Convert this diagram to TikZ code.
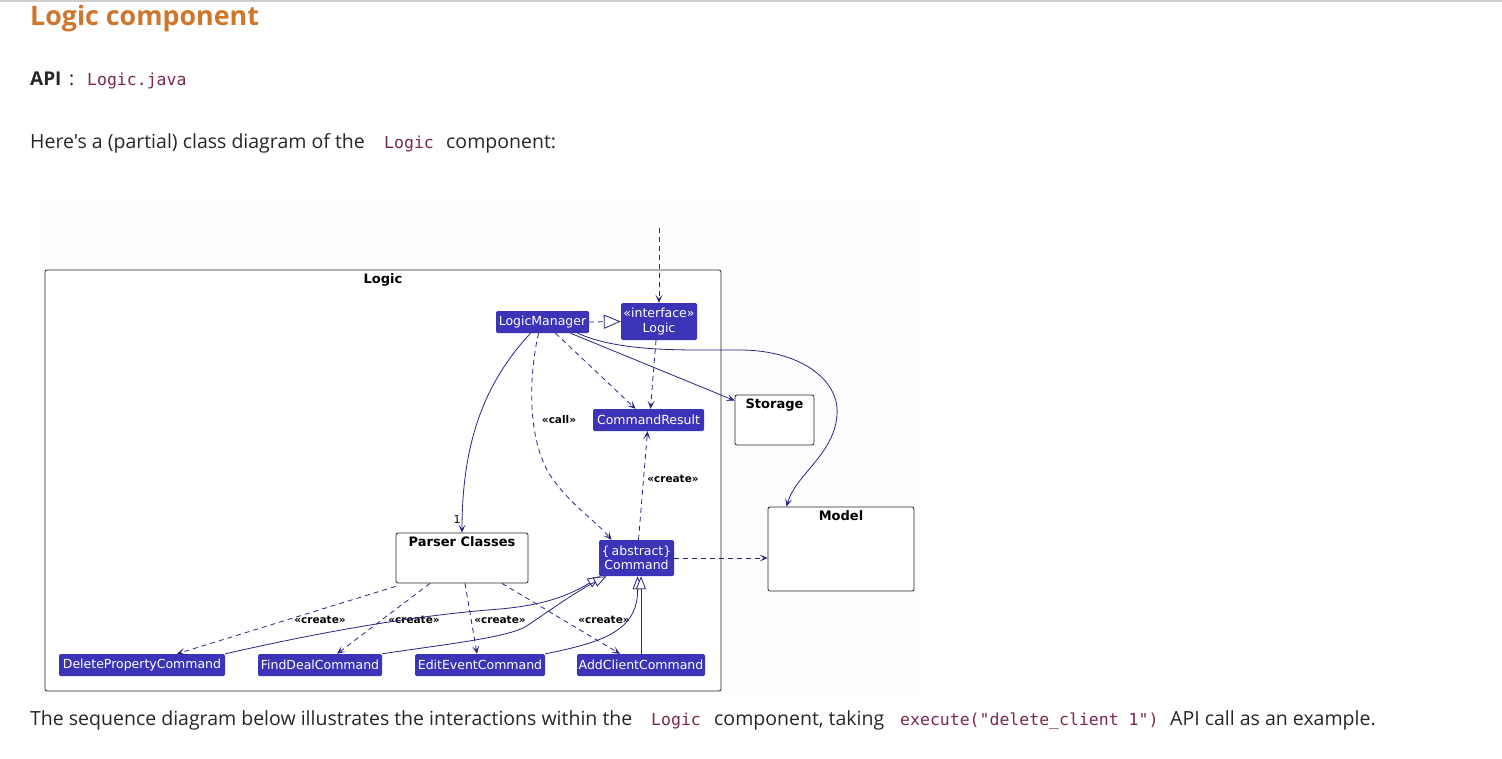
\documentclass[tikz,border=0pt]{standalone}
\usepackage{fontspec}
\setmainfont{Open Sans}[Ligatures=TeXOff]
\newfontfamily\diafont{DejaVu Sans}
\newfontfamily\codefont{DejaVu Sans Mono}[Ligatures=TeXOff]
\usetikzlibrary{positioning,arrows.meta}

\definecolor{umlfill}{RGB}{60,52,184}
\definecolor{umlline}{RGB}{38,38,130}
\definecolor{headorange}{RGB}{206,118,44}
\definecolor{codered}{RGB}{122,38,82}
\definecolor{pagegray}{RGB}{205,205,205}
\definecolor{diabg}{RGB}{253,253,253}

\tikzset{
  cls/.style={fill=umlfill, text=white, rounded corners=1.5pt, inner sep=0pt,
    minimum height=22pt, align=center, font=\diafont\fontsize{12.5}{14.5}\selectfont},
  pkg/.style={draw=black!85, fill=white, rounded corners=2pt, line width=0.8pt},
  pkgtitle/.style={inner sep=0pt, font=\diafont\bfseries\fontsize{13}{15}\selectfont},
  stereo/.style={inner sep=0pt, font=\diafont\bfseries\fontsize{10.5}{12}\selectfont},
  body/.style={anchor=base west, inner sep=0pt, text=black!85, font=\fontsize{19.5}{23}\selectfont},
  code/.style={anchor=base west, inner sep=0pt, text=codered, font=\codefont\fontsize{16.5}{20}\selectfont},
  uses/.style={umlline, line width=0.8pt, -{Stealth[length=8pt,width=7pt,inset=4pt]}},
  dep/.style={uses, dash pattern=on 5pt off 4pt},
  gen/.style={umlline, line width=0.8pt, -{Triangle[open,length=13pt,width=10pt,fill=white]}},
  real/.style={gen, dash pattern=on 5pt off 4pt, -{Triangle[open,length=17pt,width=14pt,fill=white]}}
}

\begin{document}
\begin{tikzpicture}[x=1pt, y=-1pt]

    \useasboundingbox (0,0) rectangle (1502,758);

    % page
    \draw[pagegray, line width=1.5pt] (0,0.75) -- (1502,0.75);
    \fill[diabg] (38,198) rectangle (920,695);

    \node[anchor=base west, inner sep=0pt, text=headorange,
          font=\bfseries\fontsize{26.8}{30}\selectfont] (title) at (30,25) {Logic component};
    \node[body, font=\bfseries\fontsize{19}{22}\selectfont] (api) at (30,85) {API};
    \node[body] (apicolon) at (69,85) {:};
    \node[code] (apifile) at (87,85) {Logic.java};

    \node[body] (intro) at (30,148) {Here's a (partial) class diagram of the};
    \node[code] (introcode) at (384,148) {Logic};
    \node[body] (introend) at (446,148) {component:};

    \node[body] (outro) at (30,725) {The sequence diagram below illustrates the interactions within the};
    \node[code] (outrocode) at (651,725) {Logic};
    \node[body] (outromid) at (714,725) {component, taking};
    \node[code] (outrocall) at (900,725) {execute("delete\_client 1")};
    \node[body] (outroend) at (1170,725) {API call as an example.};

    % packages
    \node[pkg, minimum width=676, minimum height=421] (logicpkg) at (383,480.5) {};
    \node[pkgtitle, below=4pt of logicpkg.north] (logicpkgtitle) {Logic};

    \node[pkg, minimum width=79, minimum height=50] (storage) at (774.5,420) {};
    \node[pkgtitle, below=4pt of storage.north] (storagetitle) {Storage};

    \node[pkg, minimum width=146, minimum height=84] (model) at (841,549) {};
    \node[pkgtitle, below=4pt of model.north] (modeltitle) {Model};

    \node[pkg, minimum width=132, minimum height=50] (parser) at (462,558) {};
    \node[pkgtitle, below=4pt of parser.north] (parsertitle) {Parser Classes};

    % classes
    \node[cls, minimum width=93] (lm) at (542.5,322) {LogicManager};
    \node[cls, minimum width=76, minimum height=37] (logic) at (659,321.5) {«interface»\\Logic};
    \node[cls, minimum width=111] (cr) at (648.5,420) {CommandResult};
    \node[cls, minimum width=75, minimum height=36] (command) at (636.5,558) {\{\,abstract\}\\Command};

    \node[cls, minimum width=166] (delprop) at (142,665) {DeletePropertyCommand};
    \node[cls, minimum width=124] (finddeal) at (320,665) {FindDealCommand};
    \node[cls, minimum width=130] (editevent) at (480,665) {EditEventCommand};
    \node[cls, minimum width=128] (addclient) at (641,665) {AddClientCommand};

    \coordinate (outside) at (659,228);

    % edges
    \draw[dep] (outside) -- (logic.north);
    \draw[real] (lm.east) -- (logic.west);

    \draw[uses] ([xshift=-12pt]lm.south) .. controls (492,375) and (462,430) .. (parser.north);
    \node[font=\diafont\fontsize{11}{13}\selectfont, inner sep=0pt] (one) at (457,519) {1};

    \draw[dep] ([xshift=-4pt]lm.south) .. controls (528,380) and (528,440) .. (550,475)
                                        .. controls (570,505) and (595,520) .. ([xshift=-25pt]command.north);
    \node[stereo] (lblcall) at (559,420) {«call»};

    \draw[dep] ([xshift=13pt]lm.south) -- ([xshift=-13pt]cr.north);
    \draw[dep] ([xshift=-3pt]logic.south) -- ([xshift=2pt]cr.north);

    \draw[uses] ([xshift=28pt]lm.south) -- ([yshift=-6pt]storage.north west);
    \draw[uses] ([xshift=35pt]lm.south) .. controls (620,352) and (680,350) .. (740,350)
                                         .. controls (800,350) and (840,380) .. (837,415)
                                         .. controls (834,455) and (795,475) .. ([xshift=19pt]model.north west);

    \draw[dep] ([xshift=2pt]command.north) -- ([xshift=-1pt]cr.south);
    \node[stereo] (lblresult) at (673,479) {«create»};

    \draw[dep] (command.east) -- (model.west |- command.east);

    \draw[dep] ([yshift=-3pt]parser.south west) -- ([xshift=35pt]delprop.north);
    \node[stereo] (lbldel) at (320,620) {«create»};
    \draw[dep] ([xshift=-32pt]parser.south) -- ([xshift=17pt]finddeal.north);
    \node[stereo] (lblfind) at (414,620) {«create»};
    \draw[dep] ([xshift=3pt]parser.south) -- ([xshift=-3pt]editevent.north);
    \node[stereo] (lbledit) at (500,620) {«create»};
    \draw[dep] ([xshift=40pt]parser.south) -- ([xshift=-21pt]addclient.north);
    \node[stereo] (lbladd) at (604,620) {«create»};

    \draw[gen] (delprop.north east) .. controls (330,630) and (420,615) .. (500,609)
                                    .. controls (545,605) and (570,595) .. ([xshift=-36pt]command.south);
    \draw[gen] (finddeal.north east) .. controls (440,645) and (505,638) .. (525,627)
                                     .. controls (545,614) and (575,592) .. ([xshift=-30pt]command.south);
    \draw[gen] (editevent.north east) .. controls (605,642) and (638,630) .. ([xshift=1pt]command.south);
    \draw[gen] (addclient.north) -- (addclient.north |- command.south);

\end{tikzpicture}
\end{document}
